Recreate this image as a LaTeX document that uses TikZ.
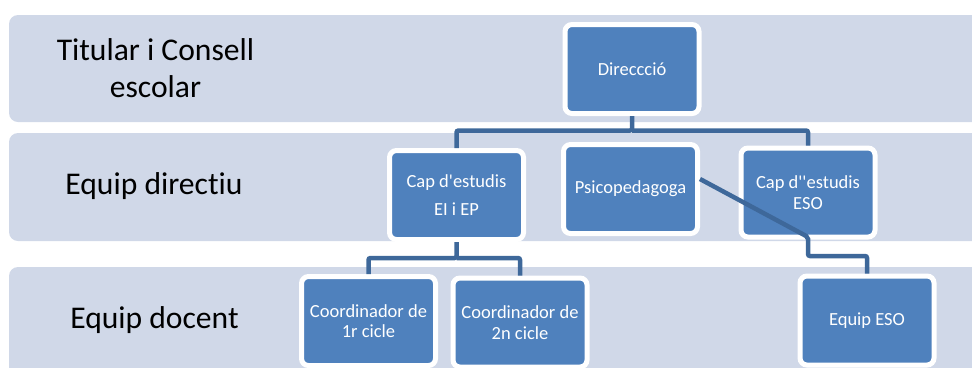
\documentclass[tikz,border=0pt]{standalone}
\usepackage{fontspec}
\setmainfont{Carlito}[Ligatures = NoCommon]
\usetikzlibrary{positioning}
\definecolor{bandgray}{RGB}{208,216,232}
\definecolor{boxblue}{RGB}{79,129,189}
\definecolor{linkblue}{RGB}{62,104,154}

\begin{document}
\begin{tikzpicture}[x = 1bp, y = -1bp,
level_band/.style = { fill = bandgray, rounded corners = 9bp },
level_name/.style = { align = center, font = \fontsize{31.6bp}{37bp}\selectfont },
org_box/.style = { rectangle, rounded corners = 7bp, fill = boxblue, draw = white, line width = 5bp,
text = white, align = center, inner sep = 1bp, minimum width = 134bp, minimum height = 89bp,
font = \fontsize{18.5bp}{20.5bp}\selectfont },
link_line/.style = { draw = linkblue, line width = 4.5bp, rounded corners = 2bp }]
\useasboundingbox (0,0) rectangle (972,367);
% levels
\path[level_band] (9,15) rectangle (1000,122);
\path[level_band] (9,133) rectangle (1000,241);
\path[level_band] (9,267) rectangle (1000,420);
\node[level_name] (titular) at (155.5,68.5) {Titular i Consell\\escolar};
\node[level_name] (directiu) at (154,186) {Equip directiu};
\node[level_name] (docent) at (154.5,320) {Equip docent};
% units
\node[org_box] (dir) at (632,69) {Direccció};
\node[org_box] (capep) at (456.5,195) {Cap d\textquotesingle estudis\\[7bp]EI i EP};
\node[org_box] (psico) at (630.5,189) {Psicopedagoga};
\node[org_box] (capeso) at (808,192.5) {Cap d\textquotesingle\textquotesingle estudis\\ESO};
\node[org_box] (coord1) at (368.5,321) {Coordinador de\\1r cicle};
\node[org_box] (coord2) at (520,322.5) {Coordinador de\\2n cicle};
\node[org_box] (eqeso) at (867,320.5) {Equip ESO};
% links
\coordinate (bus1) at (632,130.5);
\coordinate (bus2) at (456.5,258);
\coordinate (kink) at (808,237);
\coordinate (bus3) at (808,256);
\path[link_line] (dir) -- (bus1) -| (capep);
\path[link_line] (bus1) -| (capeso);
\path[link_line] (capep) -- (bus2) -| (coord1);
\path[link_line] (bus2) -| (coord2);
\path[link_line] ([yshift = 10bp]psico.east) -- (kink) -- (bus3) -| (eqeso);
\end{tikzpicture}
\end{document}
